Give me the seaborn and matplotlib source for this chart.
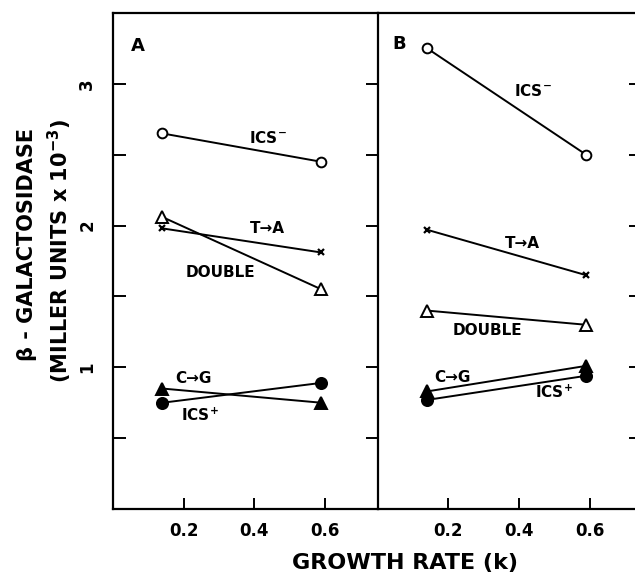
import numpy as np
import pandas as pd
import matplotlib
matplotlib.use("Agg")
import matplotlib.pyplot as plt
import seaborn as sns

# growth rate (k) for the two cultures
rate_a = [0.14, 0.59]
rate_b = [0.14, 0.59]

# beta-galactosidase, Miller units x 10^-3
ics_minus_a = [2.65, 2.45]
t_to_a_a = [1.98, 1.81]
double_a = [2.06, 1.55]
c_to_g_a = [0.85, 0.75]
ics_plus_a = [0.75, 0.89]

ics_minus_b = [3.25, 2.50]
t_to_a_b = [1.97, 1.65]
double_b = [1.40, 1.30]
c_to_g_b = [0.83, 1.01]
ics_plus_b = [0.77, 0.94]

y_ticks = [0, 0.5, 1, 1.5, 2, 2.5, 3]
y_labels = ["", "", "1", "", "2", "", "3"]
x_ticks = [0.2, 0.4, 0.6]
x_labels = ["0.2", "0.4", "0.6"]

sns.set_style("ticks")
plt.rcParams["font.family"] = ["DejaVu Sans"]
plt.rcParams["font.weight"] = "bold"
for key in ["text.color", "axes.edgecolor", "axes.labelcolor", "xtick.color", "ytick.color"]:
    plt.rcParams[key] = "black"

# marker style per strain
styles = {
    "ICS-": dict(marker="o", mfc="white", ms=7),
    "T>A": dict(marker="x", mfc="black", ms=5, mew=1.6),
    "DOUBLE": dict(marker="^", mfc="white", ms=8.5),
    "C>G": dict(marker="^", mfc="black", ms=8.5),
    "ICS+": dict(marker="o", mfc="black", ms=8),
}

fig = plt.figure(figsize=(6.35, 5.74), dpi=100)
ax_a = fig.add_axes([0.178, 0.1132, 0.417, 0.8642])
ax_b = fig.add_axes([0.595, 0.1132, 0.417, 0.8642])
ax_b.patch.set_alpha(0)


def draw_panel(ax, rate, series):
    for name, vals in series.items():
        df = pd.DataFrame({"k": rate, "v": vals})
        st = styles[name]
        sns.lineplot(data=df, x="k", y="v", ax=ax, color="black", lw=1.4,
                     marker=st["marker"], markersize=st["ms"],
                     markerfacecolor=st["mfc"], markeredgecolor="black",
                     markeredgewidth=st.get("mew", 1.4))
    ax.set_xlim(0, 0.75)
    ax.set_ylim(0, 3.5)
    ax.set_xlabel("")
    ax.set_ylabel("")
    ax.set_xticks(x_ticks)
    ax.set_xticklabels(x_labels, fontsize=12, fontweight="bold")
    ax.tick_params(axis="x", direction="in", length=8, width=1.4, pad=9)
    for sp in ax.spines.values():
        sp.set_linewidth(1.6)
        sp.set_color("black")
        sp.set_visible(True)


draw_panel(ax_a, rate_a, {"ICS-": ics_minus_a, "T>A": t_to_a_a, "DOUBLE": double_a,
                          "C>G": c_to_g_a, "ICS+": ics_plus_a})
draw_panel(ax_b, rate_b, {"ICS-": ics_minus_b, "T>A": t_to_a_b, "DOUBLE": double_b,
                          "C>G": c_to_g_b, "ICS+": ics_plus_b})

ax_a.set_yticks(y_ticks)
ax_a.set_yticklabels(y_labels, fontsize=12, fontweight="bold", rotation=90, va="center")
ax_a.tick_params(axis="y", direction="in", length=9, width=1.4, pad=12,
                 left=True, right=True)
ax_b.set_yticks(y_ticks)
ax_b.set_yticklabels([])
ax_b.tick_params(axis="y", direction="in", length=10, width=1.4,
                 left=False, right=True)
ax_b.spines["left"].set_visible(False)

txt = dict(fontsize=11, fontweight="bold", ha="center", va="center")
ax_a.text(0.07, 3.27, "A", fontsize=13, fontweight="bold", ha="center", va="center")
ax_a.text(0.44, 2.62, "ICS$^{-}$", **txt)
ax_a.text(0.437, 1.98, "T\u2192A", **txt)
ax_a.text(0.304, 1.67, "DOUBLE", **txt)
ax_a.text(0.228, 0.92, "C\u2192G", **txt)
ax_a.text(0.245, 0.66, "ICS$^{+}$", **txt)

ax_b.text(0.06, 3.28, "B", fontsize=13, fontweight="bold", ha="center", va="center")
ax_b.text(0.44, 2.95, "ICS$^{-}$", **txt)
ax_b.text(0.41, 1.87, "T\u2192A", **txt)
ax_b.text(0.31, 1.26, "DOUBLE", **txt)
ax_b.text(0.21, 0.93, "C\u2192G", **txt)
ax_b.text(0.50, 0.82, "ICS$^{+}$", **txt)

fig.text(0.0425, 0.575, "\u03b2 - GALACTOSIDASE", rotation=90, fontsize=15,
         fontweight="bold", ha="center", va="center")
fig.text(0.0945, 0.563, "(MILLER UNITS x 10$^{-3}$)", rotation=90, fontsize=15,
         fontweight="bold", ha="center", va="center")
fig.text(0.638, 0.019, "GROWTH RATE (k)", fontsize=16, fontweight="bold",
         ha="center", va="center")

fig.savefig("out.png", dpi=100, facecolor="white")
